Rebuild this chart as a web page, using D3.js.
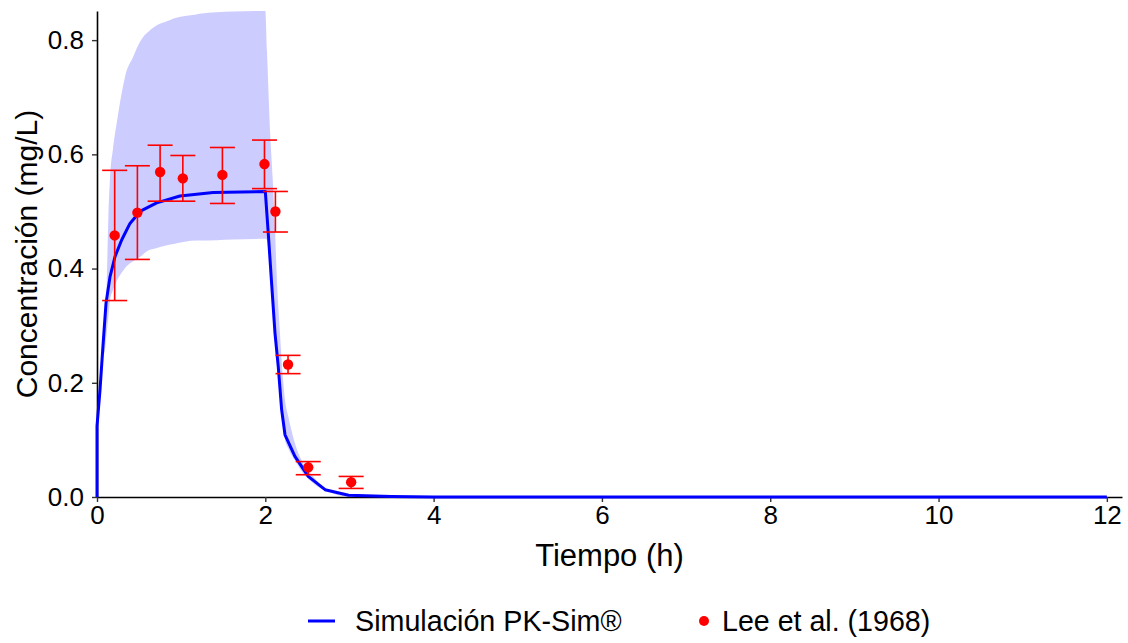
<!DOCTYPE html>
<html>
<head>
<meta charset="utf-8">
<script src="https://cdn.jsdelivr.net/npm/d3@7"></script>
<style>
  body { margin: 0; background: #fff; }
  svg { font-family: "Liberation Sans", Arial, sans-serif; }
</style>
</head>
<body>
<script>
// simulated curve (PK-Sim)
var simTime = [0, 0, 0.036, 0.068, 0.107, 0.155, 0.214, 0.293, 0.392, 0.511, 0.709, 0.986, 1.38, 2.0, 2.035, 2.075, 2.115, 2.154, 2.194, 2.234, 2.352, 2.51, 2.71, 2.99, 3.5, 4, 12];
var simConc = [0, 0.124, 0.188, 0.258, 0.339, 0.386, 0.421, 0.45, 0.479, 0.5, 0.515, 0.527, 0.533, 0.535, 0.462, 0.374, 0.287, 0.228, 0.153, 0.109, 0.071, 0.036, 0.0128, 0.003, 0.001, 0, 0];

// variability band
var bandTime = [0, 0.005, 0.036, 0.068, 0.095, 0.115, 0.135, 0.155, 0.19, 0.24, 0.31, 0.333, 0.43, 0.47, 0.55, 0.59, 0.71, 0.83, 0.91, 1.18, 1.22, 1.62, 1.99, 2.0, 2.02, 2.06, 2.09, 2.115, 2.135, 2.174, 2.214, 2.234, 2.273, 2.352, 2.47, 2.57, 2.67, 2.73, 2.9, 3.0, 3.3, 3.5, 12];
var bandHigh = [0, 0.124, 0.2, 0.27, 0.33, 0.374, 0.49, 0.56, 0.61, 0.66, 0.72, 0.736, 0.771, 0.785, 0.806, 0.812, 0.826, 0.833, 0.838, 0.845, 0.846, 0.85, 0.851, 0.851, 0.78, 0.63, 0.55, 0.47, 0.39, 0.287, 0.2, 0.17, 0.141, 0.094, 0.054, 0.036, 0.02, 0.014, 0.004, 0.002, 0.001, 0, 0];
var bandLow = [0, 0.1, 0.17, 0.24, 0.258, 0.287, 0.316, 0.345, 0.362, 0.38, 0.396, 0.401, 0.413, 0.416, 0.425, 0.43, 0.436, 0.441, 0.443, 0.449, 0.449, 0.451, 0.452, 0.452, 0.45, 0.40, 0.33, 0.28, 0.25, 0.185, 0.12, 0.1, 0.085, 0.064, 0.038, 0.024, 0.014, 0.011, 0.002, 0.001, 0, 0, 0];

// observed (Lee et al. 1968)
var obsTime = [0.21, 0.48, 0.75, 1.02, 1.49, 1.99, 2.12, 2.27, 2.51, 3.02];
var obsConc = [0.458, 0.498, 0.569, 0.558, 0.564, 0.583, 0.500, 0.232, 0.052, 0.026];
var obsLow = [0.344, 0.416, 0.518, 0.518, 0.514, 0.540, 0.464, 0.216, 0.039, 0.015];
var obsHigh = [0.572, 0.580, 0.616, 0.598, 0.612, 0.625, 0.535, 0.248, 0.062, 0.036];

var xTicks = [0, 2, 4, 6, 8, 10, 12];
var yTicks = [0, 0.2, 0.4, 0.6, 0.8];

var margin = {top: 11, right: 6, bottom: 146, left: 97},
    width = 1128 - margin.left - margin.right,
    height = 643 - margin.top - margin.bottom;

var x = d3.scaleLinear().domain([0, 12.18]).range([0, width]);
var y = d3.scaleLinear().domain([0, 0.851]).range([height, 0]);

var svg = d3.select('body').append('svg')
    .attr('width', 1128)
    .attr('height', 643);

var g = svg.append('g')
    .attr('transform', 'translate(' + margin.left + ',' + margin.top + ')');

var band = bandTime.map(function (t, i) { return {t: t, lo: bandLow[i], hi: bandHigh[i]}; });
var sim = simTime.map(function (t, i) { return {t: t, c: simConc[i]}; });
var obs = obsTime.map(function (t, i) { return {t: t, c: obsConc[i], lo: obsLow[i], hi: obsHigh[i]}; });

g.append('path')
    .datum(band)
    .attr('fill', '#ccccff')
    .attr('d', d3.area()
        .curve(d3.curveMonotoneX)
        .x(function (d) { return x(d.t); })
        .y0(function (d) { return y(d.lo); })
        .y1(function (d) { return y(d.hi); }));

// axes
var yAxis = g.append('g')
    .call(d3.axisLeft(y).tickValues(yTicks).tickFormat(d3.format('.1f')).tickSize(5).tickSizeOuter(0).tickPadding(8));
var xAxis = g.append('g')
    .attr('transform', 'translate(0,' + height + ')')
    .call(d3.axisBottom(x).tickValues(xTicks).tickFormat(d3.format('d')).tickSize(5).tickSizeOuter(0).tickPadding(4));

[xAxis, yAxis].forEach(function (a) {
    a.select('.domain').attr('stroke', '#000').attr('stroke-width', 1.6);
    a.selectAll('.tick line').attr('stroke', '#333').attr('stroke-width', 1.4);
    a.selectAll('.tick text').attr('fill', '#000').style('font-size', '26px')
        .style('font-family', '"Liberation Sans", Arial, sans-serif');
});

g.append('path')
    .datum(sim)
    .attr('fill', 'none')
    .attr('stroke', '#0000ff')
    .attr('stroke-width', 3)
    .attr('stroke-linejoin', 'round')
    .attr('d', d3.line()
        .x(function (d) { return x(d.t); })
        .y(function (d) { return y(d.c); }));

// error bars
var eb = g.selectAll('.eb')
    .data(obs)
    .enter()
    .append('g')
    .attr('class', 'eb')
    .attr('stroke', '#ff0000')
    .attr('stroke-width', 1.6);

eb.append('line')
    .attr('x1', function (d) { return x(d.t); })
    .attr('x2', function (d) { return x(d.t); })
    .attr('y1', function (d) { return y(d.lo); })
    .attr('y2', function (d) { return y(d.hi); });
eb.append('line')
    .attr('x1', function (d) { return x(d.t) - 12.5; })
    .attr('x2', function (d) { return x(d.t) + 12.5; })
    .attr('y1', function (d) { return y(d.lo); })
    .attr('y2', function (d) { return y(d.lo); });
eb.append('line')
    .attr('x1', function (d) { return x(d.t) - 12.5; })
    .attr('x2', function (d) { return x(d.t) + 12.5; })
    .attr('y1', function (d) { return y(d.hi); })
    .attr('y2', function (d) { return y(d.hi); });

g.selectAll('.pt')
    .data(obs)
    .enter()
    .append('circle')
    .attr('class', 'pt')
    .attr('cx', function (d) { return x(d.t); })
    .attr('cy', function (d) { return y(d.c); })
    .attr('r', 5.2)
    .attr('fill', '#ff0000');

// axis titles
svg.append('text')
    .attr('x', margin.left + width / 2)
    .attr('y', 566)
    .attr('text-anchor', 'middle')
    .style('font-size', '31px')
    .text('Tiempo (h)');

svg.append('text')
    .attr('transform', 'translate(37,' + (margin.top + height / 2) + ') rotate(-90)')
    .attr('text-anchor', 'middle')
    .style('font-size', '30px')
    .text('Concentración (mg/L)');

// legend
var leg = svg.append('g').attr('transform', 'translate(0,626)');
leg.append('line')
    .attr('x1', 308).attr('x2', 335)
    .attr('y1', -5).attr('y2', -5)
    .attr('stroke', '#0000ff').attr('stroke-width', 3);
leg.append('text')
    .attr('x', 355).attr('y', 5)
    .style('font-size', '28.7px')
    .text('Simulación PK-Sim®');
leg.append('circle')
    .attr('cx', 704).attr('cy', -5).attr('r', 5)
    .attr('fill', '#ff0000');
leg.append('text')
    .attr('x', 722).attr('y', 5)
    .style('font-size', '28.6px')
    .text('Lee et al. (1968)');
</script>
</body>
</html>
